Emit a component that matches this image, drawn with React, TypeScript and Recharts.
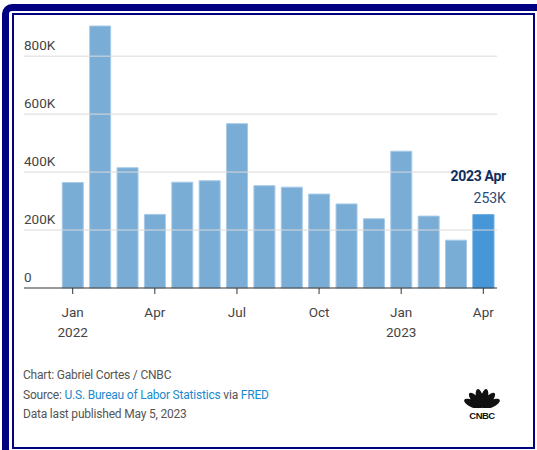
import React from "react";
import { BarChart, Bar, XAxis, YAxis, ReferenceLine, Cell, LabelList } from "recharts";

const months = ["Jan", "Feb", "Mar", "Apr", "May", "Jun", "Jul", "Aug", "Sep", "Oct", "Nov", "Dec", "Jan", "Feb", "Mar", "Apr"];
const years = ["2022", "2022", "2022", "2022", "2022", "2022", "2022", "2022", "2022", "2022", "2022", "2022", "2023", "2023", "2023", "2023"];
const jobsAdded = [364000, 904000, 415000, 254000, 365000, 370000, 567000, 353000, 348000, 324000, 290000, 239000, 472000, 248000, 165000, 253000];
const yTicks = [0, 200000, 400000, 600000, 800000];
const yTickLabels = ["0", "200K", "400K", "600K", "800K"];

const data = months.map((m, i) => ({ cat: `${m} ${years[i]}`, month: m, year: years[i], value: jobsAdded[i] }));

const FONT = "Roboto, 'Liberation Sans', sans-serif";
const BAR = "#7aadd6";
const BAR_LAST = "#4797d8";

const YTick = (props: any) => {
  const { x, y, payload } = props;
  const idx = yTicks.indexOf(payload.value);
  return (
    <text x={x} y={y - 6} textAnchor="start" fontSize={13.5} fill="#444" fontFamily={FONT}>
      {yTickLabels[idx]}
    </text>
  );
};

const XTick = (props: any) => {
  const { x, y, payload } = props;
  const [m, yr] = String(payload.value).split(" ");
  return (
    <g>
      <text x={x} y={y + 21} textAnchor="middle" fontSize={13.5} fill="#444" fontFamily={FONT}>{m}</text>
      {m === "Jan" && (
        <text x={x} y={y + 41} textAnchor="middle" fontSize={13.5} fill="#444" fontFamily={FONT}>{yr}</text>
      )}
    </g>
  );
};

const Annot = (props: any) => {
  const { x, y, width, index, value } = props;
  if (index !== data.length - 1) return null;
  const right = x + width + 12;
  const d = data[index];
  return (
    <g>
      <text x={right} y={y - 34} textAnchor="end" fontSize={14} fontWeight={700} fill="#102e5c" fontFamily={FONT} letterSpacing={-0.3}>
        {`${d.year} ${d.month}`}
      </text>
      <text x={right} y={y - 12} textAnchor="end" fontSize={14} fill="#2c4a78" fontFamily={FONT}>
        {`${Math.round(value / 1000)}K`}
      </text>
    </g>
  );
};

const CnbcLogo = () => {
  const cx = 482;
  const cy = 408;
  const angles = [-66, -40, -13, 13, 40, 66];
  return (
    <svg width={537} height={450} style={{ position: "absolute", left: 0, top: 0, pointerEvents: "none" }}>
      {angles.map((a) => (
        <ellipse key={a} cx={cx} cy={cy - 10} rx={3.6} ry={9.5} fill="#111" transform={`rotate(${a} ${cx} ${cy})`} />
      ))}
      <rect x={cx - 16} y={408} width={32} height={3} fill="#fff" />
      <text x={cx} y={419} textAnchor="middle" fontSize={9.5} fontWeight={900} fill="#111" fontFamily="'Liberation Sans', Arial, sans-serif" letterSpacing={-0.5}>
        CNBC
      </text>
    </svg>
  );
};

export default function App() {
  return (
    <div style={{ position: "absolute", left: 0, top: 0, width: 537, height: 450, overflow: "hidden", background: "#fff", fontFamily: FONT }}>
      <div style={{ position: "absolute", left: 2, top: 4, width: 700, height: 700, border: "7px solid #000080", borderRadius: 10, boxSizing: "border-box" }} />
      <div style={{ position: "absolute", left: 12, top: 13, width: 523, height: 436, border: "2px solid #000080", boxSizing: "border-box", background: "#fff" }} />
      <div style={{ position: "absolute", left: 0, top: 0 }}>
        <BarChart width={537} height={450} data={data} margin={{ top: 26, right: 40, bottom: 112, left: 23 }} barCategoryGap="12%">
          {yTicks.slice(1).map((t) => (
            <ReferenceLine key={t} y={t} stroke="#dadada" strokeWidth={1} />
          ))}
          <XAxis
            dataKey="cat"
            interval={2}
            padding={{ left: 35, right: 0 }}
            height={50}
            axisLine={{ stroke: "#333" }}
            tickLine={{ stroke: "#333" }}
            tickSize={6}
            tick={<XTick />}
          />
          <YAxis
            width={1}
            domain={[0, "dataMax"]}
            ticks={yTicks}
            axisLine={false}
            tickLine={false}
            tickSize={0}
            tickMargin={0}
            tick={<YTick />}
          />
          <Bar dataKey="value" isAnimationActive={false} stroke="#a7c9e6" strokeWidth={1}>
            {data.map((d, i) => (
              <Cell key={d.cat} fill={i === data.length - 1 ? BAR_LAST : BAR} stroke={i === data.length - 1 ? "#5aa3dd" : "#a7c9e6"} />
            ))}
            <LabelList dataKey="value" content={<Annot />} />
          </Bar>
        </BarChart>
      </div>
      <div style={{ position: "absolute", left: 23, top: 366, fontSize: 12, lineHeight: "19.5px", color: "#555", fontFamily: FONT, letterSpacing: -0.2 }}>
        <div>Chart: Gabriel Cortes / CNBC</div>
        <div>
          Source: <span style={{ color: "#1b8ad0" }}>U.S. Bureau of Labor Statistics</span> via <span style={{ color: "#1b8ad0" }}>FRED</span>
        </div>
        <div>Data last published May 5, 2023</div>
      </div>
      <CnbcLogo />
    </div>
  );
}
